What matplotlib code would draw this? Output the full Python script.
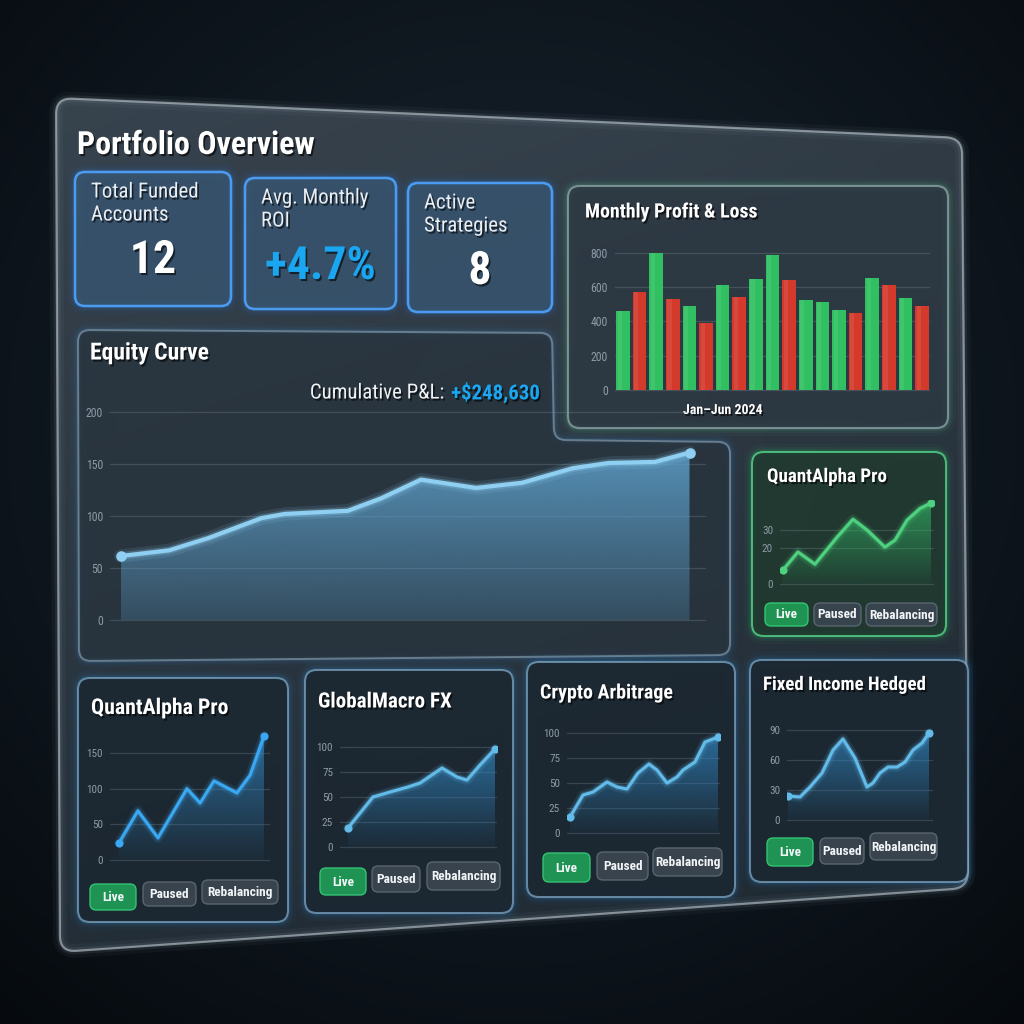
import numpy as np
import matplotlib
matplotlib.use("Agg")
import matplotlib.pyplot as plt
import matplotlib.patheffects as pe
from matplotlib import font_manager
from matplotlib.colors import to_rgb
from matplotlib.patches import FancyBboxPatch, PathPatch, Polygon
from matplotlib.path import Path

# ---------------- data ----------------
kpi_labels = [("Total Funded", "Accounts"), ("Avg. Monthly", "ROI"), ("Active", "Strategies")]
kpi_values = ["12", "+4.7%", "8"]

# Monthly Profit & Loss, Jan-Jun 2024
pnl_values = [458, 573, 798, 531, 487, 390, 610, 540, 646, 788,
              642, 525, 513, 469, 448, 654, 612, 535, 488]
pnl_kind = ["profit", "loss", "profit", "loss", "profit", "loss", "profit", "loss",
            "profit", "profit", "loss", "profit", "profit", "profit", "loss",
            "profit", "loss", "profit", "loss"]
pnl_ticks = [0, 200, 400, 600, 800]

# Equity curve
equity_t = [0, 1.11, 2.02, 3.22, 3.75, 5.19, 5.95, 6.86, 8.12, 9.17, 10.33, 11.15, 12.2, 12.99]
equity_values = [61.5, 67, 79, 98, 102, 105, 117, 135, 127, 132, 146, 151, 152, 161]
equity_ticks = [0, 50, 100, 150, 200]
cumulative_pnl = "+$248,630"

# strategy sparklines
side_name = "QuantAlpha Pro"
side_x = [0, 1.01, 2.16, 3.65, 4.73, 5.68, 6.89, 7.57, 8.38, 9.26, 10.0]
side_y = [7.8, 17.8, 11, 26, 36, 30, 20.5, 24.4, 35.5, 42, 45]
side_ticks = [0, 20, 30]

card_names = ["QuantAlpha Pro", "GlobalMacro FX", "Crypto Arbitrage", "Fixed Income Hedged"]
qa_x = [0, 0.98, 2.02, 3.52, 4.2, 4.92, 6.11, 6.79, 7.51]
qa_y = [24, 69, 31, 100, 80, 111, 94, 119, 174]
gm_x = [0, 1.53, 2.58, 3.68, 4.42, 5.77, 6.69, 7.3, 8.1, 9.02]
gm_y = [19, 50, 55, 60, 64, 79, 70, 67, 82, 98]
ca_x = [0, 1.23, 2.18, 3.5, 4.45, 5.39, 6.43, 7.47, 8.23, 9.18, 10.12, 10.69, 11.82, 12.77, 14.0]
ca_y = [16, 38, 41, 51, 46, 44, 60, 69, 63, 50, 56, 63, 71, 91, 96]
fi_x = [0, 1.28, 2.34, 3.62, 4.79, 5.85, 7.13, 8.4, 9.04, 9.79, 10.64, 11.6, 12.45, 13.3, 14.26, 15.0]
fi_y = [24, 23, 33, 47, 70, 81, 62, 33, 37, 47, 53, 53, 58, 70, 77, 87]
card_ticks = [[0, 50, 100, 150], [0, 25, 50, 75, 100], [0, 25, 50, 75, 100], [0, 30, 60, 90]]
status_labels = ["Live", "Paused", "Rebalancing"]

# ---------------- fonts ----------------
_names = {f.name for f in font_manager.fontManager.ttflist}
FONT = "Roboto"
FS = 0.86
for cand in ["Roboto Condensed", "Liberation Sans Narrow"]:
    if cand in _names:
        FONT, FS = cand, 1.0
        break

W = H = 1024
fig = plt.figure(figsize=(W / 100, H / 100), dpi=100)
fig.patch.set_facecolor("#0b1118")

ov = fig.add_axes([0, 0, 1, 1])
ov.axis("off")

# background glow
yy, xx = np.mgrid[0:1:300j, 0:1:300j]
d = np.clip(np.hypot(xx - 0.5, yy - 0.42) / 0.8, 0, 1)[..., None]
bg = np.array(to_rgb("#1a2632")) * (1 - d) + np.array(to_rgb("#05090d")) * d
ov.imshow(bg, extent=(0, W, H, 0), zorder=0, aspect="auto")
ov.set_xlim(0, W)
ov.set_ylim(H, 0)

SHADOW = [pe.withSimplePatchShadow(offset=(1.2, -1.5), shadow_rgbFace="black", alpha=0.6)]


def rect(x0, y0, x1, y1):
    return [x0 / W, 1 - y1 / H, (x1 - x0) / W, (y1 - y0) / H]


def box(x0, y0, x1, y1):
    return [(x0, y0), (x1, y0), (x1, y1), (x0, y1)]


def rounded_path(pts, r):
    verts, codes = [], []
    n = len(pts)
    for i in range(n):
        p0, p1, p2 = np.array(pts[i - 1], float), np.array(pts[i], float), np.array(pts[(i + 1) % n], float)
        d1 = (p0 - p1) / np.linalg.norm(p0 - p1)
        d2 = (p2 - p1) / np.linalg.norm(p2 - p1)
        verts.append(p1 + d1 * r)
        codes.append(Path.MOVETO if i == 0 else Path.LINETO)
        verts += [p1, p1 + d2 * r]
        codes += [Path.CURVE3, Path.CURVE3]
    verts.append(verts[0])
    codes.append(Path.CLOSEPOLY)
    return Path(verts, codes)


def glass(pts, face, alpha, edge, edge_alpha, glow=None, r=10, z=2, lw=1.4):
    path = rounded_path(pts, r)
    if glow:
        for gw, ga in [(12, 0.04), (7, 0.08), (3.5, 0.16)]:
            ov.add_patch(PathPatch(path, fc="none", ec=glow, lw=gw, alpha=ga, zorder=z))
    ov.add_patch(PathPatch(path, fc=face, ec="none", alpha=alpha, zorder=z))
    ov.add_patch(PathPatch(path, fc="none", ec=edge, lw=lw, alpha=edge_alpha, zorder=z + 0.1))
    return path


def txt(x, y, s, size, color="white", weight="normal", ha="left", va="center", shadow=True, **kw):
    return ov.text(x, y, s, fontsize=size * FS, color=color, fontweight=weight, ha=ha, va=va,
                   family=FONT, zorder=20, path_effects=SHADOW if shadow else None, **kw)


def pill(x0, y0, x1, y1, label, live):
    fc, ec = ("#1f9a55", "#35c877") if live else ("#3a454f", "#5b6772")
    ov.add_patch(FancyBboxPatch((x0, y0), x1 - x0, y1 - y0,
                                boxstyle="round,pad=0,rounding_size=6",
                                fc=fc, ec=ec, lw=1, alpha=0.95, zorder=15))
    txt((x0 + x1) / 2, (y0 + y1) / 2 + 0.5, label, 9.6, color="#f2f5f7", weight="bold",
        ha="center", shadow=False)


def style(ax, ticks, fs=8.5):
    ax.set_facecolor("none")
    for s in ax.spines.values():
        s.set_visible(False)
    ax.set_xticks([])
    ax.set_yticks(ticks)
    ax.set_yticklabels([str(t) for t in ticks])
    ax.tick_params(axis="y", length=0, labelsize=fs * FS, labelcolor="#8e9ba6", pad=5)
    for lab in ax.get_yticklabels():
        lab.set_family(FONT)
    ax.grid(axis="y", color="#8696a3", alpha=0.28, lw=0.9)
    ax.set_axisbelow(True)


def grad_fill(ax, x, y, color, a_top, a_bot):
    x = np.asarray(x, float)
    y = np.asarray(y, float)
    verts = [(x[0], 0)] + list(zip(x, y)) + [(x[-1], 0)]
    poly = Polygon(verts, closed=True, fc="none", ec="none")
    ax.add_patch(poly)
    g = np.zeros((120, 1, 4))
    g[..., :3] = to_rgb(color)
    g[..., 3] = np.linspace(a_top, a_bot, 120)[:, None]
    im = ax.imshow(g, extent=[x.min(), x.max(), 0, y.max()], origin="upper",
                   aspect="auto", zorder=1, interpolation="bilinear")
    im.set_clip_path(poly)


def chart(layout, x, y, ticks, line, fill, a_top=0.75, a_bot=0.05, lw=2.2, fs=8):
    gx0, gx1, y_top, y_base, ppu, px_first, px_last = layout
    pad = 5
    ax = fig.add_axes(rect(gx0, y_top, gx1, y_base + pad))
    style(ax, ticks, fs)
    grad_fill(ax, x, y, fill, a_top, a_bot)
    for w, a in [(lw * 3.2, 0.12), (lw * 1.8, 0.25)]:
        ax.plot(x, y, color=line, lw=w, alpha=a, solid_capstyle="round", zorder=3)
    ax.plot(x, y, color=line, lw=lw, solid_capstyle="round", solid_joinstyle="round", zorder=4)
    ax.plot([x[0], x[-1]], [y[0], y[-1]], "o", color=line, ms=lw * 2.2, zorder=5)
    ppx = (px_last - px_first) / (x[-1] - x[0])
    ax.set_xlim(x[0] - (px_first - gx0) / ppx, x[-1] + (gx1 - px_last) / ppx)
    ax.set_ylim(-pad / ppu, (y_base - y_top) / ppu)
    return ax


# ---------------- main glass panel ----------------
main_pts = [(56, 98), (962, 138), (968, 888), (60, 952)]
main_path = rounded_path(main_pts, 16)
clip = PathPatch(main_path, fc="none", ec="none", zorder=1)
ov.add_patch(clip)
gy, gx = np.mgrid[0:1:200j, 0:1:200j]
tt = np.clip(0.75 * gy + 0.25 * gx, 0, 1)[..., None]
panel_img = np.array(to_rgb("#3b4752")) * (1 - tt) + np.array(to_rgb("#1f2a33")) * tt
im = ov.imshow(panel_img, extent=(56, 968, 952, 98), zorder=1, alpha=0.93, aspect="auto")
im.set_clip_path(clip)
for gw, ga in [(10, 0.05), (5, 0.1)]:
    ov.add_patch(PathPatch(main_path, fc="none", ec="#9fb2c0", lw=gw, alpha=ga, zorder=1.5))
ov.add_patch(PathPatch(main_path, fc="none", ec="#c2ccd3", lw=1.6, alpha=0.6, zorder=1.6))
ov.set_xlim(0, W)
ov.set_ylim(H, 0)

txt(77, 145, "Portfolio Overview", 23, weight="bold")

# ---------------- KPI cards ----------------
kpi_boxes = [(75, 172, 231, 306), (245, 178, 396, 309), (408, 183, 552, 312)]
kpi_value_colors = ["white", "#1aa6f0", "white"]
for (x0, y0, x1, y1), (l1, l2), val, vc in zip(kpi_boxes, kpi_labels, kpi_values, kpi_value_colors):
    glass(box(x0, y0, x1, y1), "#37546f", 0.85, "#4ea4ff", 0.9, glow="#2f86f0", r=10, z=3, lw=1.8)
    txt(x0 + 16, y0 + 20, l1, 15, color="#e9eef3")
    txt(x0 + 16, y0 + 43, l2, 15, color="#e9eef3")
    txt((x0 + x1) / 2, y0 + 88, val, 33, color=vc, weight="bold", ha="center")

# ---------------- Monthly P&L ----------------
glass(box(568, 186, 948, 428), "#2c3842", 0.75, "#aebdc6", 0.6, glow="#5fbf8f", r=12, z=3)
txt(585, 212, "Monthly Profit & Loss", 14.3, weight="bold")
bar_layout = (615, 930, 245, 390, 0.1716, 623, 922)
gx0, gx1, y_top, y_base, ppu, pf, pl = bar_layout
axb = fig.add_axes(rect(gx0, y_top, gx1, y_base + 2))
style(axb, pnl_ticks)
idx = np.arange(len(pnl_values))
bar_colors = ["#30c062" if k == "profit" else "#d33a2c" for k in pnl_kind]
axb.bar(idx, pnl_values, width=0.82, color=bar_colors, edgecolor="none", zorder=3)
axb.bar(idx - 0.2, pnl_values, width=0.25, color="white", alpha=0.08, edgecolor="none", zorder=4)
ppx = (pl - pf) / (len(pnl_values) - 1)
axb.set_xlim(-(pf - gx0) / ppx, len(pnl_values) - 1 + (gx1 - pl) / ppx)
axb.set_ylim(-2 / ppu, (y_base - y_top) / ppu)
txt(683, 410, "Jan\u2013Jun 2024", 10, weight="bold")

# ---------------- Equity curve ----------------
eq_pts = [(78, 330), (552, 333), (554, 440), (730, 442), (730, 655), (79, 661)]
glass(eq_pts, "#27333d", 0.72, "#9cb0bf", 0.55, glow="#3c7fb8", r=12, z=2.5)
txt(90, 353, "Equity Curve", 17, weight="bold")
t_val = txt(540, 393, cumulative_pnl, 15, color="#1aa6f0", weight="bold", ha="right")
fig.canvas.draw()
bb = t_val.get_window_extent()
x_left = ov.transData.inverted().transform((bb.x0, bb.y0))[0]
txt(x_left - 2, 393, "Cumulative P&L: ", 15, color="#eef2f5", ha="right")
chart((110, 706, 405, 620, 1.04, 120.5, 689.5), equity_t, equity_values, equity_ticks,
      "#8fd0f2", "#5d9fca", a_top=0.85, a_bot=0.25, lw=3.0, fs=8.5)

# ---------------- side strategy card ----------------
glass(box(752, 452, 946, 636), "#203a2f", 0.85, "#55d88c", 0.8, glow="#2fbf6a", r=12, z=3)
txt(767, 477, side_name, 13.7, weight="bold")
chart((780, 934, 500, 584, 1.8, 783, 931), side_x, side_y, side_ticks,
      "#4fd27f", "#2fae62", a_top=0.7, a_bot=0.05, lw=2.2)
for (x0, x1), lab in zip([(765, 808), (814, 861), (866, 937)], status_labels):
    pill(x0, 603, x1, 626, lab, lab == "Live")

# ---------------- bottom strategy cards ----------------
card_boxes = [(78, 678, 288, 922), (305, 670, 513, 913), (527, 662, 735, 897), (750, 660, 968, 882)]
title_y = [708, 702, 693, 685]
title_size = [15.7, 15.2, 14.4, 13.6]
chart_layouts = [
    (110, 270, 730, 860, 0.713, 119, 264),
    (340, 497, 735, 847, 1.0, 348, 495),
    (567, 720, 730, 833, 1.0, 570, 718),
    (787, 933, 722, 820, 1.0, 788, 929),
]
card_data = [(qa_x, qa_y), (gm_x, gm_y), (ca_x, ca_y), (fi_x, fi_y)]
line_colors = ["#3aa8f2", "#62bbe8", "#62bbe8", "#62bbe8"]
pill_pos = [
    [(90, 884, 136, 910), (143, 882, 196, 906), (202, 880, 278, 904)],
    [(320, 868, 366, 895), (372, 866, 420, 892), (427, 862, 500, 890)],
    [(543, 853, 590, 882), (597, 852, 648, 880), (653, 848, 722, 876)],
    [(767, 838, 813, 866), (820, 838, 864, 864), (870, 833, 937, 860)],
]
for i, name in enumerate(card_names):
    x0, y0, x1, y1 = card_boxes[i]
    glass(box(x0, y0, x1, y1), "#1b2731", 0.9, "#86aecb", 0.7, glow="#2f86d0", r=12, z=3)
    txt(x0 + 13, title_y[i], name, title_size[i], weight="bold")
    cx, cy = card_data[i]
    chart(chart_layouts[i], cx, cy, card_ticks[i], line_colors[i], "#2f7fb8",
          a_top=0.75, a_bot=0.05, lw=2.2)
    for (px0, py0, px1, py1), lab in zip(pill_pos[i], status_labels):
        pill(px0, py0, px1, py1, lab, lab == "Live")

fig.savefig("out.png", dpi=100, facecolor=fig.get_facecolor())
